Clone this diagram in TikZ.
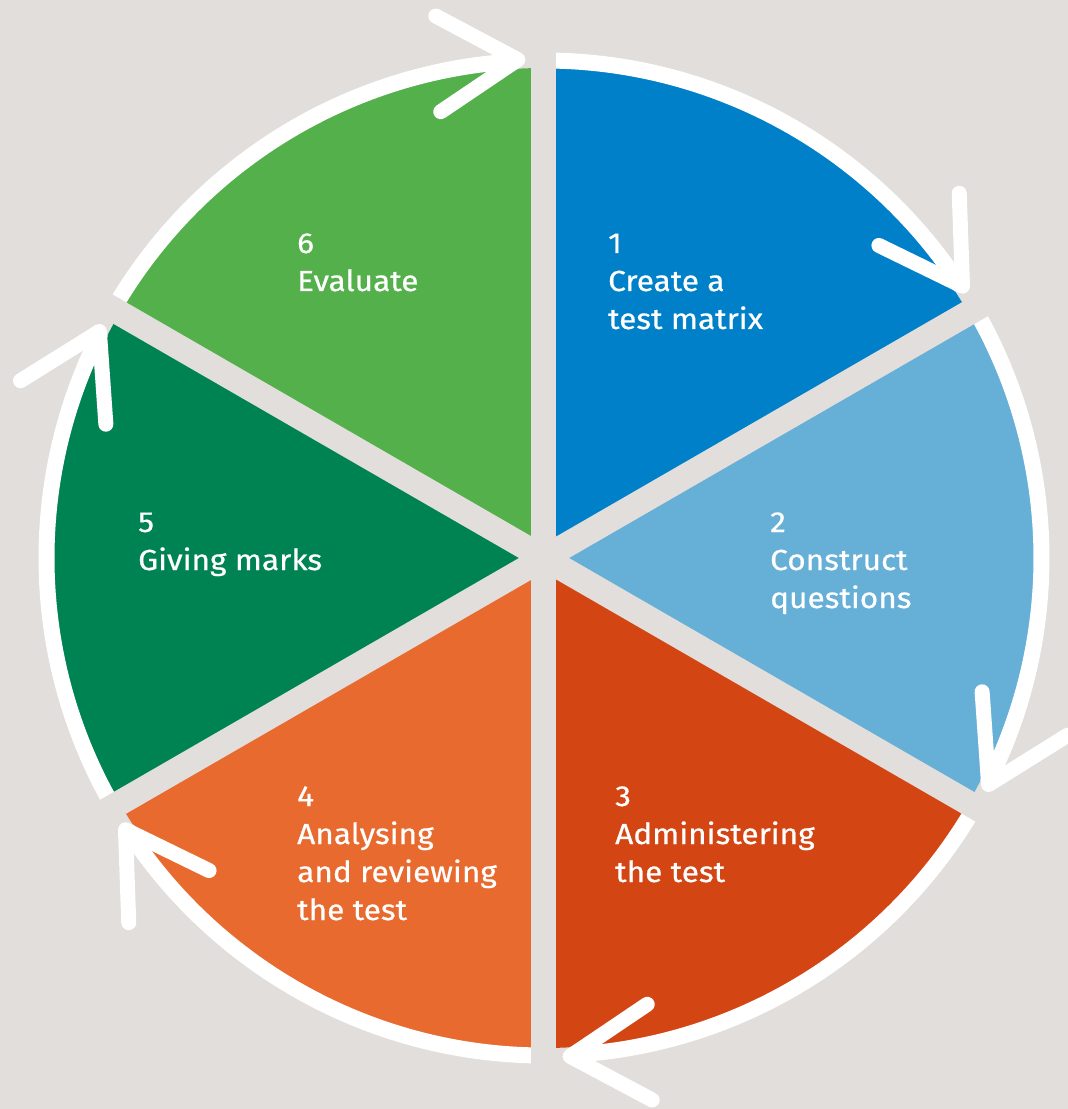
\documentclass[tikz,border=0pt]{standalone}
\usepackage{fontspec}
\setmainfont{Fira Sans}[FakeStretch=1.09, FakeBold=0.6]
\usetikzlibrary{calc}
\definecolor{bgc}{HTML}{E1DEDB}
\definecolor{cA}{HTML}{0080C9}
\definecolor{cB}{HTML}{66AFD6}
\definecolor{cC}{HTML}{D34614}
\definecolor{cD}{HTML}{E96A2E}
\definecolor{cE}{HTML}{008352}
\definecolor{cF}{HTML}{53B04A}
\tikzset{
  ringarc/.style={draw=white, line width=16pt, line cap=butt},
  gapline/.style={draw=bgc, line width=25pt, line cap=butt},
  arrowarm/.style={draw=white, line width=15pt, line cap=round, line join=round},
  steplabel/.style={anchor=base west, inner sep=0pt, text=white, align=left,
    font=\fontsize{29pt}{38pt}\selectfont}
}
\begin{document}
\begin{tikzpicture}[x=1pt,y=1pt]
\fill[bgc] (-544pt,-551pt) rectangle (524pt,558pt);
\useasboundingbox (-544pt,-551pt) rectangle (524pt,558pt);
% sectors
\foreach \a/\b/\c in {30/90/cA,-30/30/cB,-90/-30/cC,-150/-90/cD,150/210/cE,90/150/cF}{
  \fill[\c] (0,0) -- (\a:490pt) arc[start angle=\a, end angle=\b, radius=490pt] -- cycle;
}
% white ring arcs (clockwise, from upper bound to the arrow tip)
\foreach \u/\l in {90/30,30/-30,-30/-90,-90/-150,210/150,150/90}{
  \pgfmathsetmacro{\e}{\l+3}
  \draw[ringarc] (\u:497.5pt) arc[start angle=\u, end angle=\e, radius=497.5pt];
}
% gaps between sectors
\foreach \g in {90,30,-30,-90,-150,150}{
  \draw[gapline] (0,0) -- (\g:560pt);
}
% arrow heads
\foreach \l in {90,30,-30,-90,-150,150}{
  \pgfmathsetmacro{\t}{\l+3}
  \pgfmathsetmacro{\p}{\t+121}
  \pgfmathsetmacro{\q}{\t+59}
  \coordinate (tip\l) at (\t:499pt);
  \draw[arrowarm] (tip\l) ++(\p:93pt) -- (tip\l) -- ++(\q:93pt);
}
% labels (anchor = baseline of the last line)
\node[steplabel] (s1) at (64pt,229pt) {1\\Create a\\test matrix};
\node[steplabel] (s2) at (226pt,-50pt) {2\\Construct\\questions};
\node[steplabel] (s3) at (71pt,-324pt) {3\\Administering\\the test};
\node[steplabel] (s4) at (-247pt,-362pt) {4\\Analysing\\and reviewing\\the test};
\node[steplabel] (s5) at (-406pt,-12pt) {5\\Giving marks};
\node[steplabel] (s6) at (-247pt,267pt) {6\\Evaluate};
\end{tikzpicture}
\end{document}
